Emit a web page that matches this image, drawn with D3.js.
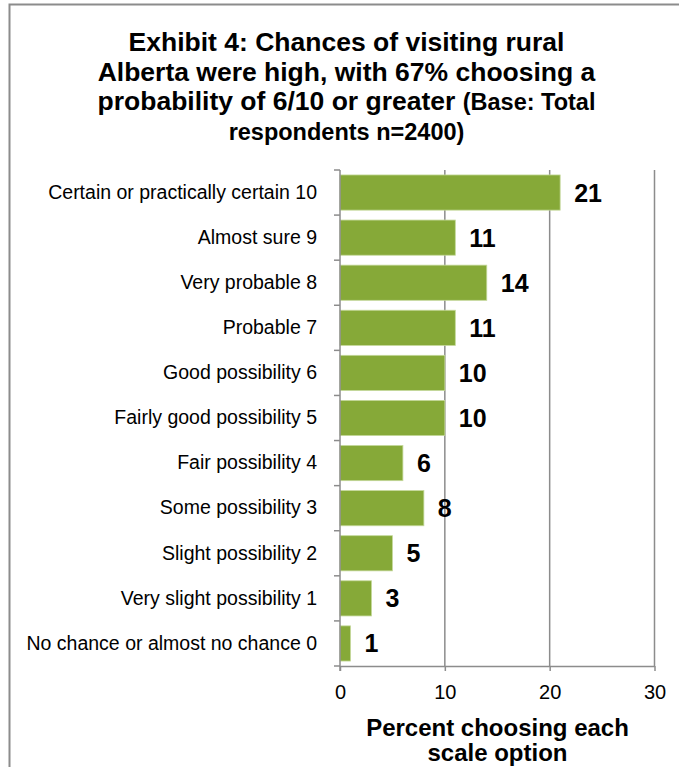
<!DOCTYPE html>
<html>
<head>
<meta charset="utf-8">
<script src="https://cdn.jsdelivr.net/npm/d3@7"></script>
<style>
  html, body { margin: 0; padding: 0; background: #fff; }
  svg { display: block; font-family: "Liberation Sans", Arial, sans-serif; }
</style>
</head>
<body>
<svg id="chart" width="679" height="767"></svg>
<script>
// Response scale options, top to bottom
const categories = [
  "Certain or practically certain 10",
  "Almost sure 9",
  "Very probable 8",
  "Probable 7",
  "Good possibility 6",
  "Fairly good possibility 5",
  "Fair possibility 4",
  "Some possibility 3",
  "Slight possibility 2",
  "Very slight possibility 1",
  "No chance or almost no chance 0"
];
// Percent of respondents choosing each option
const percents = [21, 11, 14, 11, 10, 10, 6, 8, 5, 3, 1];
const xTicks = [0, 10, 20, 30];

const FONT = "Liberation Sans, Arial, sans-serif";
const GREY = "#8c8c8c";

const svg = d3.select("#chart");

// Outer frame (top and left edges)
svg.append("path")
  .attr("d", "M9.5,767 L9.5,4.5 L679,4.5")
  .attr("fill", "none")
  .attr("stroke", GREY)
  .attr("stroke-width", 2);

// Title
const title = svg.append("text")
  .attr("text-anchor", "middle")
  .attr("font-weight", "bold")
  .attr("fill", "#000");
title.append("tspan").attr("x", 346.5).attr("y", 51).attr("font-size", 26.5)
  .text("Exhibit 4: Chances of visiting rural");
title.append("tspan").attr("x", 346.5).attr("y", 81).attr("font-size", 26.5)
  .text("Alberta were high, with 67% choosing a");
const l3 = title.append("tspan").attr("x", 346.5).attr("y", 110);
l3.append("tspan").attr("font-size", 26.5).text("probability of 6/10 or greater ");
l3.append("tspan").attr("font-size", 23.5).text("(Base: Total");
title.append("tspan").attr("x", 346.5).attr("y", 140).attr("font-size", 23.5)
  .text("respondents n=2400)");

const plot = { left: 340, right: 654.5, top: 170, bottom: 666 };

const x = d3.scaleLinear().domain([0, 30]).range([plot.left, plot.right]);
const y = d3.scaleBand().domain(categories).range([plot.top, plot.bottom])
  .paddingInner(0.22).paddingOuter(0.11);

// Vertical gridlines
svg.append("g")
  .selectAll("line")
  .data(xTicks.slice(1))
  .join("line")
  .attr("x1", d => x(d)).attr("x2", d => x(d))
  .attr("y1", plot.top).attr("y2", plot.bottom)
  .attr("stroke", GREY)
  .attr("stroke-width", 1.5);

// Bars
svg.append("g")
  .selectAll("rect")
  .data(percents)
  .join("rect")
  .attr("x", x(0))
  .attr("y", (d, i) => y(categories[i]))
  .attr("width", d => x(d) - x(0))
  .attr("height", y.bandwidth())
  .attr("fill", "#86a938")
  .attr("stroke", "#c4d89a")
  .attr("stroke-width", 0.8);

// Value labels
svg.append("g")
  .selectAll("text")
  .data(percents)
  .join("text")
  .attr("x", d => x(d) + 14)
  .attr("y", (d, i) => y(categories[i]) + y.bandwidth() / 2)
  .attr("dy", "0.36em")
  .attr("font-size", 25)
  .attr("font-weight", "bold")
  .attr("font-family", FONT)
  .attr("fill", "#000")
  .text(d => d);

// Category axis
const yAxis = svg.append("g")
  .attr("transform", `translate(${plot.left},0)`)
  .call(d3.axisLeft(y).tickSize(0).tickPadding(23));
yAxis.select(".domain").remove();
yAxis.selectAll("text").attr("font-size", 19.5).attr("fill", "#000")
  .attr("font-family", FONT);

// Band boundary ticks on the category axis
const bounds = d3.range(categories.length + 1)
  .map(i => plot.top + i * (plot.bottom - plot.top) / categories.length);
svg.append("g")
  .selectAll("line")
  .data(bounds)
  .join("line")
  .attr("x1", plot.left - 6).attr("x2", plot.left)
  .attr("y1", d => d).attr("y2", d => d)
  .attr("stroke", GREY)
  .attr("stroke-width", 1.5);
svg.append("line")
  .attr("x1", plot.left).attr("x2", plot.left)
  .attr("y1", plot.top).attr("y2", plot.bottom + 5)
  .attr("stroke", GREY)
  .attr("stroke-width", 1.5);

// Value axis
const xAxis = svg.append("g")
  .attr("transform", `translate(0,${plot.bottom})`)
  .call(d3.axisBottom(x).tickValues(xTicks).tickSize(5).tickPadding(14).tickSizeOuter(0));
xAxis.select(".domain").attr("stroke", GREY).attr("stroke-width", 1.5);
xAxis.selectAll(".tick line").attr("stroke", GREY).attr("stroke-width", 1.5);
xAxis.selectAll("text").attr("font-size", 20).attr("fill", "#000")
  .attr("font-family", FONT);

// Value axis title
const xt = svg.append("text")
  .attr("text-anchor", "middle")
  .attr("font-size", 24)
  .attr("font-weight", "bold")
  .attr("font-family", FONT)
  .attr("fill", "#000");
xt.append("tspan").attr("x", 497.5).attr("y", 736).text("Percent choosing each");
xt.append("tspan").attr("x", 497.5).attr("y", 761).text("scale option");
</script>
</body>
</html>
